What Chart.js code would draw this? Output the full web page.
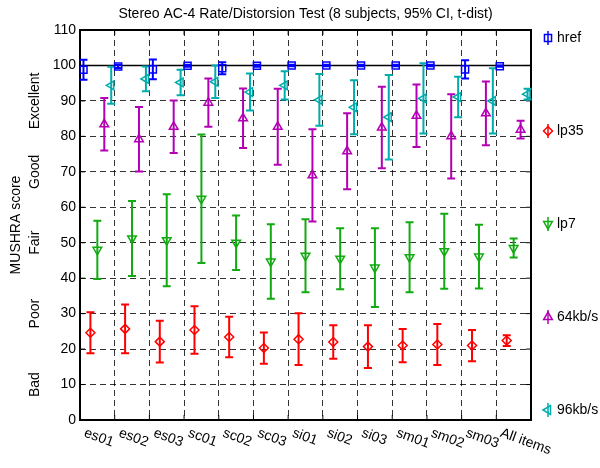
<!DOCTYPE html>
<html>
<head>
<meta charset="utf-8">
<script src="https://cdn.jsdelivr.net/npm/chart.js@4.4.1/dist/chart.umd.min.js"></script>
<style>
html, body { margin: 0; padding: 0; background: #fff; }
</style>
</head>
<body>
<canvas id="myChart" width="600" height="468"></canvas>
<script>
// categories and values (mean and 95% CI half-width)
const categories = ['es01', 'es02', 'es03', 'sc01', 'sc02', 'sc03', 'si01', 'si02', 'si03', 'sm01', 'sm02', 'sm03', 'All items'];
const qualityLabels = ['Bad', 'Poor', 'Fair', 'Good', 'Excellent'];
const qualityCenters = [10, 30, 50, 70, 90];

const hrefMean = [98.8, 99.7, 98.9, 99.9, 99.2, 99.9, 100, 100, 100, 100, 100, 98.9, 99.8];
const hrefCI   = [2.8, 0.4, 2.8, 0.3, 1.7, 0.3, 0.2, 0.2, 0.2, 0.2, 0.2, 2.6, 0.2];

const lp35Mean = [24.6, 25.7, 22.1, 25.4, 23.4, 20.3, 22.8, 22.0, 20.7, 21.0, 21.3, 21.0, 22.4];
const lp35CI   = [5.8, 6.9, 5.9, 6.7, 5.7, 4.4, 7.3, 4.7, 6.0, 4.7, 5.8, 4.4, 1.5];

const lp7Mean = [48.0, 51.2, 50.7, 62.4, 50.0, 44.7, 46.3, 45.5, 43.0, 45.9, 47.6, 46.1, 48.5];
const lp7CI   = [8.2, 10.6, 13.0, 18.1, 7.7, 10.5, 10.3, 8.6, 11.1, 9.9, 10.6, 9.0, 2.7];

const k64Mean = [83.4, 79.2, 82.7, 89.5, 85.1, 82.7, 69.0, 75.8, 82.5, 85.8, 80.0, 86.5, 81.9];
const k64CI   = [7.4, 9.1, 7.4, 6.8, 8.4, 10.7, 13.0, 10.7, 11.5, 8.8, 11.9, 9.0, 2.5];

const k96Mean = [94.4, 96.2, 95.2, 95.4, 92.5, 94.4, 90.3, 88.2, 85.4, 90.7, 91.1, 90.0, 91.9];
const k96CI   = [5.2, 3.5, 3.6, 4.6, 5.2, 4.0, 7.3, 7.6, 11.9, 9.9, 5.7, 9.2, 1.5];

const FONT = '"Liberation Sans", Arial, Helvetica, sans-serif';

function makeSeries(label, means, cis, offset, color, style, rot, radius) {
    return {
        label: label,
        data: means.map((m, i) => ({x: i + offset, y: m})),
        ci: cis,
        borderColor: color,
        backgroundColor: 'rgba(0,0,0,0)',
        pointStyle: style,
        pointRotation: rot,
        pointRadius: radius,
        pointHoverRadius: radius,
        pointBorderWidth: 1.5,
        showLine: false
    };
}

const datasets = [
    makeSeries('href', hrefMean, hrefCI, 0.1, '#0000ff', 'rect', 0, 5),
    makeSeries('lp35', lp35Mean, lp35CI, 0.3, '#ff0000', 'rectRot', 0, 4.5),
    makeSeries('lp7', lp7Mean, lp7CI, 0.5, '#11aa11', 'triangle', 180, 5),
    makeSeries('64kb/s', k64Mean, k64CI, 0.7, '#b400b4', 'triangle', 0, 5),
    makeSeries('96kb/s', k96Mean, k96CI, 0.9, '#00acac', 'triangle', 270, 5)
];

const decor = {
    id: 'decor',
    beforeDatasetsDraw(chart) {
        const ctx = chart.ctx;
        const a = chart.chartArea;
        const xs = chart.scales.x, ys = chart.scales.y;
        ctx.save();
        // solid line at 100
        ctx.strokeStyle = '#000';
        ctx.lineWidth = 1.5;
        ctx.beginPath();
        ctx.moveTo(a.left, ys.getPixelForValue(100));
        ctx.lineTo(a.right, ys.getPixelForValue(100));
        ctx.stroke();
        // inner ticks
        ctx.lineWidth = 1;
        ctx.beginPath();
        for (let v = 10; v < 110; v += 10) {
            const y = ys.getPixelForValue(v);
            ctx.moveTo(a.left, y); ctx.lineTo(a.left + 5, y);
            ctx.moveTo(a.right, y); ctx.lineTo(a.right - 5, y);
        }
        for (let k = 1; k < categories.length; k++) {
            const x = xs.getPixelForValue(k);
            ctx.moveTo(x, a.bottom); ctx.lineTo(x, a.bottom - 5);
            ctx.moveTo(x, a.top); ctx.lineTo(x, a.top + 5);
        }
        ctx.stroke();
        // frame
        ctx.lineWidth = 2;
        ctx.strokeRect(a.left, a.top, a.right - a.left, a.bottom - a.top);
        // error bars
        chart.data.datasets.forEach(ds => {
            ctx.strokeStyle = ds.borderColor;
            ctx.lineWidth = 2;
            ds.data.forEach((p, i) => {
                const x = xs.getPixelForValue(p.x);
                const y1 = ys.getPixelForValue(p.y + ds.ci[i]);
                const y2 = ys.getPixelForValue(p.y - ds.ci[i]);
                ctx.beginPath();
                ctx.moveTo(x, y1); ctx.lineTo(x, y2);
                ctx.moveTo(x - 4, y1); ctx.lineTo(x + 4, y1);
                ctx.moveTo(x - 4, y2); ctx.lineTo(x + 4, y2);
                ctx.stroke();
            });
        });
        ctx.restore();
    },
    afterDraw(chart) {
        const ctx = chart.ctx;
        const a = chart.chartArea;
        const xs = chart.scales.x, ys = chart.scales.y;
        ctx.save();
        ctx.fillStyle = '#000';
        ctx.font = '14px ' + FONT;
        // title
        ctx.textAlign = 'center';
        ctx.textBaseline = 'middle';
        ctx.fillText('Stereo AC-4 Rate/Distorsion Test (8 subjects, 95% CI, t-dist)', (a.left + a.right) / 2, 14);
        // quality labels and y title
        qualityLabels.forEach((q, i) => {
            ctx.save();
            ctx.translate(35, ys.getPixelForValue(qualityCenters[i]));
            ctx.rotate(-Math.PI / 2);
            ctx.fillText(q, 0, 0);
            ctx.restore();
        });
        ctx.save();
        ctx.translate(16, (a.top + a.bottom) / 2);
        ctx.rotate(-Math.PI / 2);
        ctx.fillText('MUSHRA score', 0, 0);
        ctx.restore();
        // rotated category labels
        ctx.textAlign = 'left';
        ctx.textBaseline = 'top';
        categories.forEach((c, i) => {
            ctx.save();
            ctx.translate(xs.getPixelForValue(i) + 7, a.bottom + 6);
            ctx.rotate(20 * Math.PI / 180);
            ctx.fillText(c, 0, 0);
            ctx.restore();
        });
        // legend on the right
        ctx.textBaseline = 'middle';
        const n = chart.data.datasets.length;
        chart.data.datasets.forEach((ds, i) => {
            const y = a.top + 8 + i * (a.bottom - a.top - 18) / (n - 1);
            const x = a.right + 17;
            ctx.strokeStyle = ds.borderColor;
            ctx.lineWidth = 1.5;
            ctx.beginPath();
            ctx.moveTo(x, y - 7); ctx.lineTo(x, y + 7);
            ctx.stroke();
            ctx.fillStyle = 'rgba(0,0,0,0)';
            Chart.helpers.drawPoint(ctx, {pointStyle: ds.pointStyle, rotation: ds.pointRotation, radius: ds.pointRadius, borderWidth: 1.5}, x, y);
            ctx.fillStyle = '#000';
            ctx.fillText(ds.label, x + 9, y);
        });
        ctx.restore();
    }
};

const gridLine = {color: 'rgba(0,0,0,0.8)', lineWidth: 1, drawTicks: false};

myChart = new Chart(document.getElementById('myChart').getContext('2d'), {
    type: 'scatter',
    data: {datasets: datasets},
    options: {
        responsive: false,
        animation: false,
        events: [],
        layout: {padding: {top: 30, right: 69, left: 0, bottom: 0}},
        plugins: {legend: {display: false}, tooltip: {enabled: false}},
        scales: {
            x: {
                type: 'linear', min: 0, max: categories.length,
                ticks: {stepSize: 1, display: false},
                grid: gridLine,
                border: {display: false, dash: [6, 4]},
                afterFit(scale) { scale.height = 48; }
            },
            y: {
                min: 0, max: 110,
                ticks: {stepSize: 10, color: '#000', padding: 4, font: {size: 14, family: FONT}},
                grid: gridLine,
                border: {display: false, dash: [6, 4]},
                afterFit(scale) { scale.width = 80; }
            }
        }
    },
    plugins: [decor]
});
</script>
</body>
</html>
